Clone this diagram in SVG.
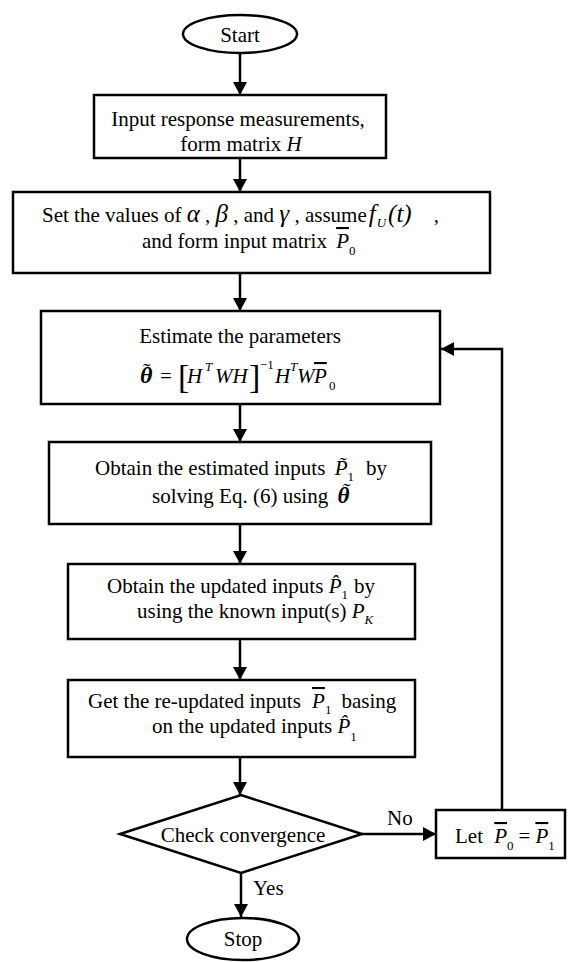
<svg xmlns="http://www.w3.org/2000/svg" width="580" height="962" viewBox="0 0 580 962">
<defs>
<style>
.shape{fill:#fff;stroke:#000;stroke-width:2.5}
.t{font-family:"Liberation Serif","Times New Roman",serif;font-size:21px;fill:#000}
.i{font-style:italic}
.g{font-style:italic;font-size:25px}
.s{font-size:13px}
.ob{text-decoration:overline}
.c{fill:none;stroke:#000;stroke-width:2.5}
</style>
<marker id="ah" markerUnits="userSpaceOnUse" markerWidth="14" markerHeight="14" refX="13" refY="7" orient="auto">
<path d="M0,0 L13,7 L0,14 z" fill="#000"/>
</marker>
</defs>

<g id="connectors">
<line class="c" x1="240" y1="53" x2="240" y2="95" marker-end="url(#ah)"/>
<line class="c" x1="240" y1="158" x2="240" y2="192" marker-end="url(#ah)"/>
<line class="c" x1="240" y1="273" x2="240" y2="311" marker-end="url(#ah)"/>
<line class="c" x1="240" y1="404" x2="240" y2="442" marker-end="url(#ah)"/>
<line class="c" x1="240" y1="524" x2="240" y2="564" marker-end="url(#ah)"/>
<line class="c" x1="240" y1="639" x2="240" y2="680" marker-end="url(#ah)"/>
<line class="c" x1="240" y1="757" x2="240" y2="795" marker-end="url(#ah)"/>
<line class="c" x1="241" y1="873" x2="241" y2="917" marker-end="url(#ah)"/>
<line class="c" x1="362" y1="834" x2="436" y2="834" marker-end="url(#ah)"/>
<polyline class="c" points="502,810 502,349 441,349" marker-end="url(#ah)"/>
<text class="t" x="387" y="825">No</text>
<text class="t" x="253" y="895">Yes</text>
</g>

<g id="start">
<ellipse class="shape" cx="240" cy="34" rx="57" ry="19"/>
<text class="t" x="240" y="42" text-anchor="middle">Start</text>
</g>

<g id="input">
<rect class="shape" x="94" y="95" width="292" height="63"/>
<text class="t" x="238" y="126" text-anchor="middle">Input response measurements,</text>
<text class="t" x="241" y="151" text-anchor="middle">form matrix <tspan class="i">H</tspan></text>
</g>

<g id="setvalues">
<rect class="shape" x="13" y="192" width="477" height="81"/>
<text class="t" x="42" y="222">Set the values of <tspan class="g">α</tspan> , <tspan class="g">β</tspan> , and <tspan class="g">γ</tspan> , assume<tspan class="g" dx="2">f</tspan><tspan class="s i" dx="1" dy="5">U</tspan><tspan class="g" dx="2" dy="-5">(t)</tspan><tspan dx="22">,</tspan></text>
<text class="t" x="142" y="248">and form input matrix <tspan class="i ob" dx="4">P</tspan><tspan class="s" dy="7">0</tspan></text>
</g>

<g id="estimate">
<rect class="shape" x="41" y="311" width="399" height="93"/>
<text class="t" x="240" y="343" text-anchor="middle">Estimate the parameters</text>
<text class="t" y="383"><tspan class="i" x="140" style="font-weight:bold;font-size:24px">θ</tspan><tspan x="160">=</tspan><tspan x="178" y="388" style="font-size:34px">[</tspan><tspan class="i" x="187" y="383">H</tspan><tspan class="s i" x="205" y="371">T</tspan><tspan class="i" x="215" y="383">WH</tspan><tspan x="249" y="388" style="font-size:34px">]</tspan><tspan class="s" x="260" y="369">−1</tspan><tspan class="i" x="275" y="383">H</tspan><tspan class="s i" x="290" y="371">T</tspan><tspan class="i" x="297" y="383">W</tspan><tspan class="i ob" x="314">P</tspan><tspan class="s" x="329" y="390">0</tspan></text>
<text class="t" x="143" y="378" style="font-size:22px">˜</text>
</g>

<g id="obtainestimated">
<rect class="shape" x="49" y="442" width="382" height="82"/>
<text class="t" x="95" y="475">Obtain the estimated inputs <tspan class="i" dx="4">P̃</tspan><tspan class="s" dy="6">1</tspan><tspan dx="12" dy="-6">by</tspan></text>
<text class="t" x="152" y="503">solving Eq. (6) using <tspan class="i" dx="4" style="font-weight:bold;font-size:23px">θ</tspan></text>
<text class="t" x="343" y="498" style="font-size:22px">˜</text>
</g>

<g id="obtainupdated">
<rect class="shape" x="68" y="564" width="347" height="75"/>
<text class="t" x="107" y="593">Obtain the updated inputs <tspan class="i">P̂</tspan><tspan class="s" dy="6">1</tspan><tspan dx="6" dy="-6">by</tspan></text>
<text class="t" x="137" y="618">using the known input(s) <tspan class="i">P</tspan><tspan class="s i" dy="6">K</tspan></text>
</g>

<g id="reupdated">
<rect class="shape" x="68" y="680" width="347" height="77"/>
<text class="t" x="88" y="708">Get the re-updated inputs <tspan class="i ob" dx="6">P</tspan><tspan class="s" dy="6">1</tspan><tspan dx="10" dy="-6">basing</tspan></text>
<text class="t" x="152" y="733">on the updated inputs <tspan class="i">P̂</tspan><tspan class="s" dy="8">1</tspan></text>
</g>

<g id="check">
<polygon class="shape" points="120,834 241,795 362,834 241,873"/>
<text class="t" x="243" y="842" text-anchor="middle">Check convergence</text>
</g>

<g id="let">
<rect class="shape" x="436" y="810" width="129" height="48"/>
<text class="t" x="455" y="843">Let <tspan class="i ob" dx="6">P</tspan><tspan class="s" dy="7">0</tspan><tspan dx="5" dy="-7">=</tspan><tspan class="i ob" dx="5">P</tspan><tspan class="s" dy="7">1</tspan></text>
</g>

<g id="stop">
<ellipse class="shape" cx="243" cy="939" rx="56" ry="21"/>
<text class="t" x="243" y="946" text-anchor="middle">Stop</text>
</g>
</svg>
